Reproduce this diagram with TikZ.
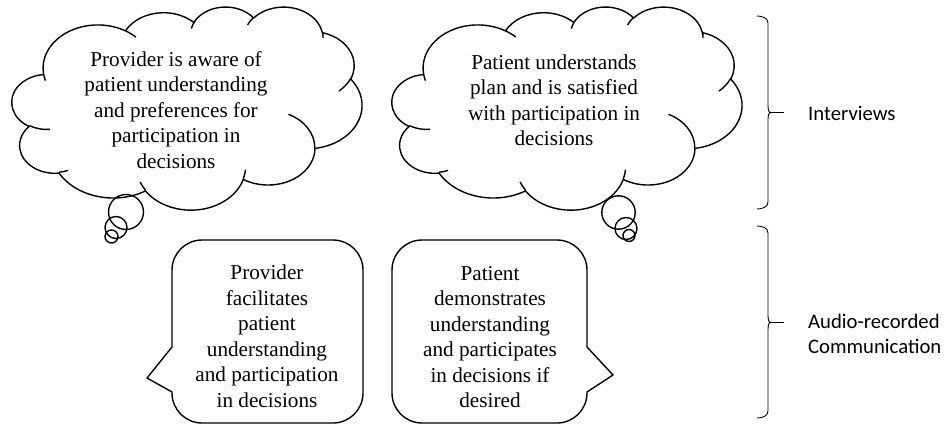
\documentclass[tikz,border=0pt]{standalone}
\usepackage{fontspec}
\setmainfont{Liberation Serif}
\newfontfamily\calibri{Carlito}

% one bump of a cloud: x radius, y radius, start angle and sweep taken on the ellipse
\newcommand\cloudarc[4]{arc[x radius=#1pt, y radius=#2pt,
  start angle={atan2(#1*sin(#3),#2*cos(#3))},
  delta angle={mod(atan2(#1*sin(#3+#4),#2*cos(#3+#4))-atan2(#1*sin(#3),#2*cos(#3))+720,360)}]}

% cloud outline in a 432 x 432 box, y downwards
\newcommand\cloudoutline{%
  (39.00,143.70)
  \cloudarc{67.53}{91.90}{-190.4875}{123.7805}
  \cloudarc{53.33}{72.67}{-144.1024}{89.9452}
  \cloudarc{43.65}{59.45}{-145.8079}{99.7230}
  \cloudarc{48.57}{65.95}{-130.9861}{117.2417}
  \cloudarc{53.33}{72.73}{-78.7089}{109.0269}
  \cloudarc{67.75}{92.20}{-46.2673}{130.2690}
  \cloudarc{57.85}{78.67}{0.6250}{114.0333}
  \cloudarc{67.52}{92.15}{22.4516}{115.1726}
  \cloudarc{77.20}{105.43}{66.2426}{75.7110}
  \cloudarc{43.60}{59.18}{-274.9421}{146.7356}
  \cloudarc{43.45}{59.45}{-246.8285}{152.5189}
  -- cycle
  % inner strokes
  (46.93,261.77) \cloudarc{43.45}{59.45}{86.7420}{26.4295}
  (69.28,348.99) \cloudarc{43.60}{59.18}{73.6105}{11.4475}
  (164.78,390.90) \cloudarc{67.52}{92.15}{137.6242}{14.0811}
  (288.27,347.51) \cloudarc{67.52}{92.15}{6.4533}{15.9984}
  (341.29,229.54) \cloudarc{57.85}{78.67}{-70.2924}{70.9174}
  (417.98,153.54) \cloudarc{53.33}{72.73}{30.3180}{27.7515}
  (383.24,54.26) \cloudarc{48.57}{65.95}{-13.7443}{14.8589}
  (290.78,39.52) \cloudarc{48.57}{65.95}{-149.1815}{18.1954}
  (221.41,47.20) \cloudarc{43.65}{59.45}{-163.4943}{17.6864}
  (140.00,51.92) \cloudarc{67.53}{91.90}{-66.7070}{12.3194}
  (41.27,157.89) \cloudarc{67.53}{91.90}{157.6544}{11.8582}}

\begin{document}
\begin{tikzpicture}[x=1pt, y=-1pt,
    outline/.style={line width=1.4pt, line join=round},
    brace/.style={line width=0.9pt},
    says/.style={font=\fontsize{21.2}{25.5}\selectfont, align=center, inner sep=0pt},
    tag/.style={font=\calibri\fontsize{20.7}{25.3}\selectfont, align=left, inner sep=0pt}]
	\useasboundingbox (0,0) rectangle (946,428);
	% Thought clouds
	\begin{scope}[shift={(12,6.4)}, x=1pt, y=1pt, xscale=0.81, yscale=-0.47]
		\draw[outline] \cloudoutline;
	\end{scope}
	\begin{scope}[shift={(392,6.4)}, x=1pt, y=1pt, xscale=0.81, yscale=-0.47]
		\draw[outline] \cloudoutline;
	\end{scope}
	\draw[outline] (126,212) circle[radius=17.5pt] (116,227.5) circle[radius=11pt] (111.5,236.5) circle[radius=6.5pt];
	\draw[outline] (618.5,212.5) circle[radius=16.7pt] (626,228.5) circle[radius=11pt] (629,235.5) circle[radius=6pt];
	\node[says] (awareTxt) at (176,110) {Provider is aware of\\patient understanding\\and preferences for\\participation in\\decisions};
	\node[says] (planTxt) at (554,100) {Patient understands\\plan and is satisfied\\with participation in\\decisions};
	% Speech bubbles
	\draw[outline] (147,378) -- (172,347) [rounded corners=30pt] -- (172,240) -- (363,240) -- (363,423) -- (172,423) [sharp corners] -- (172,392) -- cycle;
	\draw[outline] (613,375) -- (587,392) [rounded corners=30pt] -- (587,423) -- (392,423) -- (392,240) -- (587,240) [sharp corners] -- (587,347) -- cycle;
	\node[says] (facTxt) at (267,336) {Provider\\facilitates\\patient\\understanding\\and participation\\in decisions};
	\node[says] (demoTxt) at (490,337) {Patient\\demonstrates\\understanding\\and participates\\in decisions if\\desired};
	% Braces
	\draw[brace] (757,16) to[out=0,in=90] (768,23) -- (768,106) to[out=-90,in=180] (771,112.5) coordinate (tipA) to[out=180,in=90] (768,119) -- (768,202) to[out=-90,in=0] (757,209);
	\draw[brace] (757,226) to[out=0,in=90] (768,233) -- (768,316) to[out=-90,in=180] (771,322.5) coordinate (tipB) to[out=180,in=90] (768,329) -- (768,411) to[out=-90,in=0] (757,418);
	\coordinate (stubA) at (784,112.5);
	\coordinate (stubB) at (784,322.5);
	\draw[brace] (tipA) -- (stubA);
	\draw[brace] (tipB) -- (stubB);
	\node[tag, anchor=west] (intLbl) at (808,113) {Interviews};
	\node[tag, anchor=north west] (audLbl) at (808,314) {Audio-recorded\\Communication};
\end{tikzpicture}
\end{document}
